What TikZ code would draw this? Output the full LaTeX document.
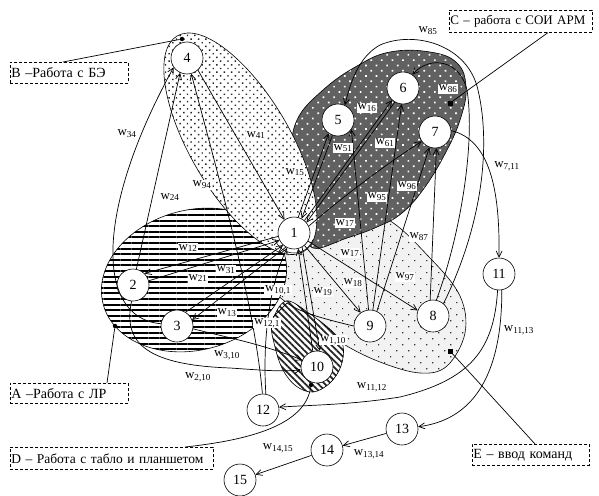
\documentclass[tikz,border=0pt]{standalone}
\usepackage{fontspec}
\setmainfont{Liberation Serif}
\usetikzlibrary{arrows.meta,patterns.meta}
\newcommand\wl[1]{w\textsubscript{#1}}
\begin{document}
\begin{tikzpicture}[x=1pt,y=-1pt,
  st/.style={circle,draw,fill=white,minimum size=32pt,inner sep=0pt,line width=0.6pt,font=\fontsize{14}{14}\selectfont},
  edge/.style={line width=0.7pt,-{Straight Barb[length=6pt,width=6pt]}},
  plain/.style={line width=0.7pt},
  lab/.style={fill=white,inner sep=0.8pt,font=\fontsize{13}{13}\selectfont},
  cbox/.style={draw,densely dashed,line width=0.6pt,inner sep=1pt,anchor=north west,align=left,font=\fontsize{14}{14}\selectfont},
  reg/.style={draw,line width=0.6pt},
  dotm/.style={circle,fill,inner sep=0pt,minimum size=4.5pt},
  sqm/.style={rectangle,fill,inner sep=0pt,minimum size=5pt}]
\useasboundingbox (0,0) rectangle (599,495);
% ---------- regions ----------
% E
\path[reg,preaction={fill=black!5},pattern={Dots[radius=0.8pt,distance=8.5pt,angle=45]},pattern color=black!80]
  plot[smooth cycle,tension=0.6] coordinates {(287,303) (266,282) (262,257) (278,226) (330,208) (385,218) (430,258) (460,296) (465,333) (447,366) (420,373) (380,362) (342,343) (315,320)};
% A
\path[reg,preaction={fill=white},pattern={Lines[angle=0,distance=5.6pt,line width=2.1pt]},pattern color=black,rotate around={15:(194,280)}]
  (194,280) ellipse [x radius=94,y radius=70];
% C
\path[reg,preaction={fill=black!62},pattern={Dots[radius=1.2pt,distance=7.5pt,angle=45]},pattern color=white]
  plot[smooth cycle,tension=0.7] coordinates {(313,248) (347,238) (377,227) (402,213) (425,187) (447,150) (461,117) (466,87) (457,63) (430,52) (390,52) (357,66) (323,90) (297,120) (293,155) (303,195) (308,225)};
% B
\path[reg,preaction={fill=white},pattern={Dots[radius=1pt,distance=5.2pt,angle=45]},pattern color=black!85,rotate around={-59.6:(240.4,143.75)}]
  (240.4,143.75) ellipse [x radius=125,y radius=50];
% D
\path[reg,preaction={fill=white},pattern={Lines[angle=-45,distance=4.6pt,line width=1.7pt]},pattern color=black!85]
  plot[smooth cycle,tension=0.6] coordinates {(272,323) (286,301) (310,314) (333,332) (343,346) (341,366) (330,383) (313,392) (296,386) (283,370) (275,347)};
% ---------- nodes ----------
\fill[white] (294,233) circle (20pt);
\draw[line width=0.5pt] (294,233) ++(200:20pt) arc[start angle=200,end angle=340,radius=20pt];
\node[st] (n1) at (294,233) {1};
\node[st] (n2) at (133,285) {2};
\node[st] (n3) at (177,326) {3};
\node[st] (n4) at (187,58) {4};
\node[st] (n5) at (338,120) {5};
\node[st] (n6) at (403,88) {6};
\node[st] (n7) at (435,132) {7};
\node[st] (n8) at (433,316) {8};
\node[st] (n9) at (370,326) {9};
\node[st] (n10) at (317,367) {10};
\node[st] (n11) at (499,274) {11};
\node[st] (n12) at (263,410) {12};
\node[st] (n13) at (402,429) {13};
\node[st] (n14) at (327,450) {14};
\node[st] (n15) at (240,480) {15};
% ---------- edges ----------
\draw[edge] (n1.192) -- (n2.45);
\draw[edge] (n2.15) -- (n1.207);
\draw[edge] (n3.58) -- (n1.228);
\draw[edge] (n1.240) -- (n3.22);
\draw[edge] (n3.172) .. controls (95,318) and (95,210) .. (n4.215);
\draw[edge] (n2.78) -- (n4.245);
\draw[edge] (n12.92) .. controls (255,310) and (225,200) .. (n4.285);
\draw[edge] (n4.312) -- (n1.126);
\draw[edge] (n1.75) -- (n5.235);
\draw[edge] (n5.250) -- (n1.62);
\draw[edge] (n1.50) -- (n6.228);
\draw[edge] (n6.240) -- (n1.40);
\draw[edge] (n1.25) .. controls (345,195) and (385,165) .. (n7.215);
\draw[edge] (n9.95) -- (n5.325);
\draw[edge] (n9.80) -- (n6.265);
\draw[edge] (n9.65) -- (n7.250);
\draw[edge] (n8.100) -- (n7.275);
\draw[edge] (n8.78) .. controls (462,230) and (475,140) .. (467,90) .. controls (460,60) and (430,55) .. (n6.55);
\draw[edge] (n8.50) .. controls (480,230) and (492,150) .. (478,90) .. controls (468,45) and (415,30) .. (380,45) .. controls (362,55) and (352,75) .. (n5.65);
\draw[edge] (n7.5) .. controls (490,140) and (500,190) .. (n11.90);
\draw[edge] (n11.265) .. controls (494,350) and (470,380) .. (400,397) .. controls (350,405) and (310,405) .. (n12.10);
\draw[edge] (n11.280) .. controls (502,380) and (470,420) .. (n13.8);
\draw[edge] (n13) -- (n14);
\draw[edge] (n14) -- (n15);
\draw[edge] (n3.350) .. controls (230,338) and (265,345) .. (n10.155);
\draw[edge] (n2.265) .. controls (122,345) and (150,365) .. (230,368) .. controls (260,370) and (280,372) .. (n10.190);
\draw[edge] (n12.80) .. controls (262,330) and (272,280) .. (n1.245);
\draw[edge] (n10.105) -- (n1.285);
\draw[edge] (n1.300) -- (n10.80);
\draw[edge] (n1.310) -- (n9.125);
\draw[edge] (n1.330) -- (n8.160);
\draw[plain] (n9.180) .. controls (320,318) and (300,312) .. (287,303) -- (273,317);
% ---------- labels ----------
\node[lab] at (188,248) {\wl{12}};
\node[lab] at (198,278) {\wl{21}};
\node[lab] at (226,270) {\wl{31}};
\node[lab] at (227,313) {\wl{13}};
\node[lab] at (127,134) {\wl{34}};
\node[lab] at (170,197) {\wl{24}};
\node[lab] at (202,185) {\wl{94}};
\node[lab] at (256,135) {\wl{41}};
\node[lab] at (295,172) {\wl{15}};
\node[lab] at (343,148) {\wl{51}};
\node[lab] at (367,108) {\wl{16}};
\node[lab] at (385,143) {\wl{61}};
\node[lab] at (345,223) {\wl{17}};
\node[lab] at (377,197) {\wl{95}};
\node[lab] at (407,186) {\wl{96}};
\node[lab] at (350,253) {\wl{17}};
\node[lab] at (419,237) {\wl{87}};
\node[lab] at (405,277) {\wl{97}};
\node[lab] at (353,283) {\wl{18}};
\node[lab] at (323,292) {\wl{19}};
\node[lab] at (333,340) {\wl{1,10}};
\node[lab] at (278,290) {\wl{10,1}};
\node[lab] at (267,323) {\wl{12,1}};
\node[lab] at (227,355) {\wl{3,10}};
\node[lab] at (198,377) {\wl{2,10}};
\node[lab] at (372,387) {\wl{11,12}};
\node[lab] at (519,330) {\wl{11,13}};
\node[lab] at (369,454) {\wl{13,14}};
\node[lab] at (278,448) {\wl{14,15}};
\node[lab] at (507,166) {\wl{7,11}};
\node[lab] at (428,31) {\wl{85}};
\node[lab] at (448,89) {\wl{86}};
% ---------- captions ----------
\node[cbox,minimum width=118pt,minimum height=21pt,text width=116pt] (bB) at (10,62) {B –Работа с БЭ};
\node[cbox,minimum width=143pt,minimum height=22pt,text width=141pt,font=\fontsize{13}{13}\selectfont] (bC) at (449,10) {C – работа с СОИ АРМ};
\node[cbox,minimum width=118pt,minimum height=20pt,text width=116pt] (bA) at (10,383) {A –Работа с ЛР};
\node[cbox,minimum width=203pt,minimum height=22pt,text width=201pt,font=\fontsize{13.5}{13.5}\selectfont] (bD) at (10,447) {D – Работа с табло и планшетом};
\node[cbox,minimum width=117pt,minimum height=21pt,text width=115pt] (bE) at (472,444) {E – ввод команд};
\node[dotm] (dB) at (182,39) {};
\node[dotm] (dA) at (115,326) {};
\node[dotm] (dD) at (311,385) {};
\node[sqm] (sC) at (450,103) {};
\node[sqm] (sE) at (450,351) {};
\draw[plain] ([xshift=53pt]bB.north west) -- (dB);
\draw[plain] ([xshift=97pt]bA.north west) -- (dA);
\draw[plain] ([xshift=99pt]bC.south west) -- (sC);
\draw[plain] ([xshift=63pt]bE.north west) -- (sE);
\draw[plain] ([xshift=175pt]bD.north west) .. controls (250,440) and (305,425) .. (dD);
\end{tikzpicture}
\end{document}
